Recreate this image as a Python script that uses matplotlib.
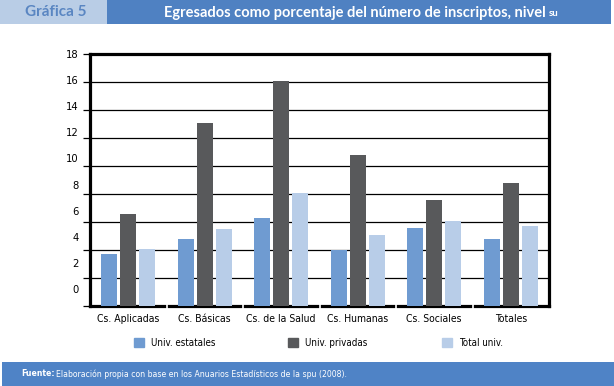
import matplotlib
matplotlib.use("Agg")
import matplotlib.pyplot as plt
import matplotlib.patches as mpatches
import numpy as np

categories = ["Cs. Aplicadas", "Cs. Básicas", "Cs. de la Salud", "Cs. Humanas", "Cs. Sociales", "Totales"]
estatales = [3.7, 4.8, 6.3, 4.0, 5.6, 4.8]
privadas = [6.6, 13.1, 16.1, 10.8, 7.6, 8.8]
total_univ = [4.1, 5.5, 8.1, 5.1, 6.1, 5.7]
series_names = ["Univ. estatales", "Univ. privadas", "Total univ."]
tick_labels = [0, 2, 4, 6, 8, 10, 12, 14, 16, 18]

c_est = "#6F9BD1"
c_priv = "#58595B"
c_tot = "#B8CDE8"
header_blue = "#4F81C2"
header_light = "#B9CDE6"

narrow = dict(family="DejaVu Sans", stretch="condensed")

fig = plt.figure(figsize=(6.14, 3.86), dpi=100)
W, H = 614.0, 386.0

# header
fig.patches.append(mpatches.Rectangle((0, 1 - 24 / H), 107 / W, 24 / H, transform=fig.transFigure,
                                      facecolor=header_light, edgecolor="none"))
fig.patches.append(mpatches.Rectangle((107 / W, 1 - 24 / H), 504 / W, 24 / H, transform=fig.transFigure,
                                      facecolor=header_blue, edgecolor="none"))
fig.text(56 / W, 1 - 12 / H, "Gráfica 5", color="#5A86C2", fontsize=11, fontweight="bold",
         family="Lato", ha="center", va="center")
t1 = fig.text(355 / W, 1 - 12.5 / H, "Egresados como porcentaje del número de inscriptos, nivel",
              color="white", fontsize=10.5, fontweight="bold", family="Lato", ha="center", va="center")

# footer
fig.patches.append(mpatches.Rectangle((2 / W, 0), 1, 24 / H, transform=fig.transFigure,
                                      facecolor="#4F83C6", edgecolor="none"))
f1 = fig.text(21 / W, 12 / H, "Fuente:", color="white", fontsize=6.2, fontweight="bold",
              ha="left", va="center", **narrow)

ax = fig.add_axes([90 / W, 80 / H, 459 / W, 252 / H])
x = np.arange(len(categories))
w = 0.21
step = 0.25
ax.bar(x - step, estatales, w, color=c_est, zorder=3, label=series_names[0])
ax.bar(x, privadas, w, color=c_priv, zorder=3, label=series_names[1])
ax.bar(x + step, total_univ, w, color=c_tot, zorder=3, label=series_names[2])

ax.set_xlim(-0.5, len(categories) - 0.5)
ax.set_ylim(0, 18)
for g in range(2, 18, 2):
    ax.axhline(g, color="black", lw=0.9, zorder=1)

# major ticks at gridlines (no labels), labels sit slightly offset as in the original
ax.set_yticks(range(0, 19, 2))
ax.set_yticklabels([])
ax.tick_params(axis="y", which="major", length=5, width=0.9, color="black")
ax.set_yticks([1.21 + v * 0.933 for v in tick_labels], minor=True)
ax.set_yticklabels([str(v) for v in tick_labels], minor=True, fontsize=8, **narrow)
ax.tick_params(axis="y", which="minor", length=0, pad=8)

ax.set_xticks(x)
ax.set_xticklabels(categories, fontsize=7.5, **narrow)
ax.tick_params(axis="x", length=0, pad=6)

for s in ax.spines.values():
    s.set_linewidth(2.3)
    s.set_color("black")

# small white breaks in the baseline between categories
ax.vlines(x[:-1] + 0.5, -0.25, 0.25, colors="white", lw=1.2, zorder=5, clip_on=False)

# legend: one entry per spot, as spread in the original
legend_x = [134, 288, 442]
for c, n, lx in zip([c_est, c_priv, c_tot], series_names, legend_x):
    fig.legend(handles=[mpatches.Patch(color=c, label=n)], loc="center left",
               bbox_to_anchor=(lx / W, 1 - 343 / H), frameon=False,
               prop={"family": "DejaVu Sans", "stretch": "condensed", "size": 7},
               handlelength=1.0, handleheight=1.0, handletextpad=0.7, borderpad=0, borderaxespad=0)

fig.canvas.draw()
r = fig.canvas.get_renderer()
bb = t1.get_window_extent(r)
fig.text(bb.x1 / W + 3 / W, 1 - 13 / H, "su", color="white", fontsize=7, fontweight="bold",
         family="Lato", ha="left", va="center")
bb = f1.get_window_extent(r)
fig.text(bb.x1 / W + 2 / W, 12 / H, "Elaboración propia con base en los Anuarios Estadísticos de la spu (2008).",
         color="white", fontsize=6.2, ha="left", va="center", **narrow)

fig.savefig("out.png", dpi=100)
